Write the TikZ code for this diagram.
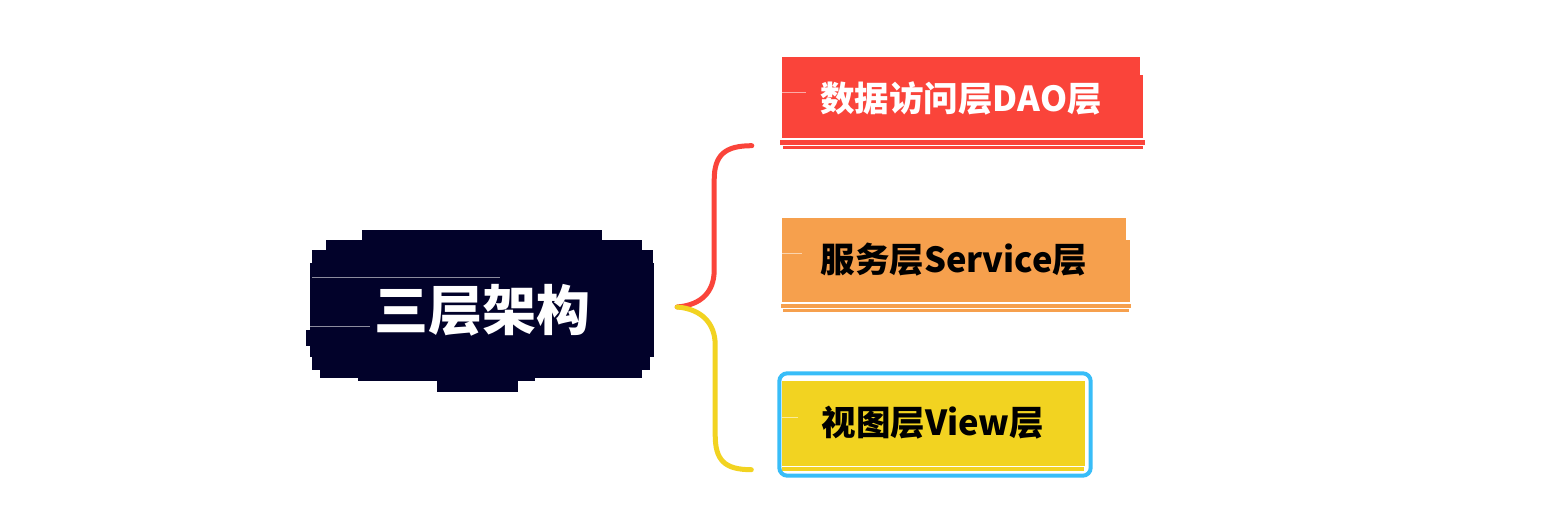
\documentclass[tikz,border=0pt]{standalone}
\usepackage{fontspec}
\setmainfont{Noto Sans CJK SC}
\usetikzlibrary{calc, positioning}

\definecolor{rootnavy}{HTML}{02022A}
\definecolor{daored}{HTML}{FA443A}
\definecolor{serviceorange}{HTML}{F6A04D}
\definecolor{viewyellow}{HTML}{F2D321}
\definecolor{viewblue}{HTML}{38BDF8}

\tikzset{
  layerbox/.style={inner sep=0pt, font=\fontsize{34.5}{40}\selectfont\bfseries},
  rootbox/.style={fill=rootnavy, text=white, inner sep=0pt, font=\fontsize{54}{60}\selectfont\bfseries},
  gapline/.style={white, line width=1pt, opacity=0.55},
  bracket/.style={line width=5pt, line cap=round},
}

\begin{document}
\begin{tikzpicture}[x=1pt,y=-1pt]
\useasboundingbox (0,0) rectangle (1557,526);

% brush strokes behind the root
\fill[rootnavy] (362,230) rectangle (602,246);
\fill[rootnavy] (326,240) rectangle (642,256);
\fill[rootnavy] (312,250) rectangle (653,268);
\fill[rootnavy] (306,330) rectangle (650,346);
\fill[rootnavy] (312,345) rectangle (650,370);
\fill[rootnavy] (320,360) rectangle (642,378);
\fill[rootnavy] (358,370) rectangle (535,381);
\fill[rootnavy] (437,375) rectangle (518,392);
\node[rootbox, minimum width=344pt, minimum height=94pt] (root) at (482,310) {三层架构};
\draw[gapline] (312,278) -- (500,278);
\draw[gapline] (310,327) -- (370,327);

% layers
\node[layerbox, fill=daored, text=white, minimum width=358pt, minimum height=81pt] (dao) at (961,98) {数据访问层DAO层};
\fill[daored] (1136,75) rectangle (1143,138);
\fill[daored] (780,140) rectangle (1145,145);
\fill[daored] (783,146.5) rectangle (1143,149.5);
\draw[gapline] (782,93) -- (806,93);

\node[layerbox, fill=serviceorange, text=black, minimum width=344pt, minimum height=84pt] (service) at (954,260) {服务层Service层};
\fill[serviceorange] (1122,240) rectangle (1130,302);
\fill[serviceorange] (781,304) rectangle (1131,308);
\fill[serviceorange] (783,309.5) rectangle (1129,312);
\draw[gapline] (782,254) -- (802,254);

\node[layerbox, fill=viewyellow, text=black, minimum width=303pt, minimum height=85pt] (view) at (933,423) {视图层View层};
\fill[viewyellow] (782,467) rectangle (1084,471);
\draw[gapline] (782,417) -- (798,417);
\draw[viewblue, line width=4pt, rounded corners=8pt] ($(view.north west)+(-2,-7)$) rectangle ($(view.south east)+(6,10)$);

% brace
\coordinate (fork) at ($(root.east)+(23,-3)$);
\coordinate (daoend) at ($(dao.south west)+(-30,7)$);
\coordinate (viewend) at ($(view.south west)+(-30,4)$);
\draw[bracket, daored] (fork) .. controls +(24,-2) and +(0,22) .. ++(37,-37) -- ++(0,-90) .. controls +(0,-25) and +(-27,0) .. (daoend);
\draw[bracket, viewyellow] (fork) .. controls +(24,2) and +(0,-22) .. ++(38,38) -- ++(0,90) .. controls +(0,25) and +(-27,0) .. (viewend);
\end{tikzpicture}
\end{document}
